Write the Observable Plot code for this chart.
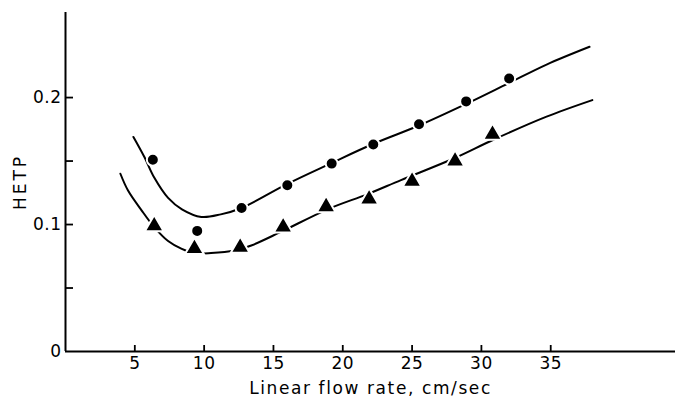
<!DOCTYPE html>
<html>
<head>
<meta charset="utf-8">
<script src="https://cdn.jsdelivr.net/npm/d3@7"></script>
<script src="https://cdn.jsdelivr.net/npm/@observablehq/plot@0.6"></script>
<style>
  html, body { margin: 0; padding: 0; background: #fff; }
  svg { font-family: "DejaVu Sans", sans-serif; }
  g[aria-label="x-axis label"] text { letter-spacing: 1.6px; }
  g[aria-label="y-axis label"] text { letter-spacing: 3px; }
  g[aria-label="x-axis tick label"] text, g[aria-label="y-axis tick label"] text { letter-spacing: 0.5px; }
</style>
</head>
<body>
<div id="chart"></div>
<script>
// Measured points: circles
const circleX = [6.3, 9.5, 12.7, 16.0, 19.2, 22.2, 25.5, 28.9, 32.0];
const circleY = [0.151, 0.095, 0.113, 0.131, 0.148, 0.163, 0.179, 0.197, 0.215];
// Measured points: triangles
const triX = [6.4, 9.3, 12.6, 15.7, 18.8, 21.9, 25.0, 28.1, 30.8];
const triY = [0.099, 0.081, 0.082, 0.098, 0.114, 0.120, 0.134, 0.150, 0.171];
// Fitted curve (upper, circles)
const upperX = [4.9, 5.7, 6.4, 7.4, 8.4, 9.8, 11.2, 12.7, 16.0, 19.1, 22.3, 25.5, 28.9, 31.9, 34.7, 37.8];
const upperY = [0.169, 0.153, 0.137, 0.121, 0.112, 0.106, 0.108, 0.113, 0.132, 0.148, 0.164, 0.178, 0.195, 0.211, 0.226, 0.240];
// Fitted curve (lower, triangles)
const lowerX = [3.96, 4.5, 5.5, 6.4, 7.4, 8.35, 9.3, 10.5, 12.2, 13.4, 15.5, 18.9, 21.8, 24.2, 28.0, 30.9, 34.7, 38.0];
const lowerY = [0.140, 0.127, 0.111, 0.098, 0.087, 0.081, 0.0775, 0.0775, 0.0795, 0.0835, 0.094, 0.112, 0.124, 0.135, 0.152, 0.167, 0.185, 0.198];
// Axis ticks
const xTicks = [5, 10, 15, 20, 25, 30, 35];
const yTickMarks = [0.05, 0.1, 0.15, 0.2];
const yTickLabels = [0, 0.1, 0.2];

const zip = (xs, ys) => xs.map((x, i) => ({x, y: ys[i]}));
const circles = zip(circleX, circleY);
const tris = zip(triX, triY);
const upper = zip(upperX, upperY);
const lower = zip(lowerX, lowerY);

const chart = Plot.plot({
  width: 679,
  height: 399,
  marginLeft: 65,
  marginRight: 4,
  marginTop: 12,
  marginBottom: 48,
  style: {fontFamily: "DejaVu Sans, sans-serif", fontSize: "16px", color: "#000", background: "#fff"},
  x: {domain: [0, 44]},
  y: {domain: [0, 0.267]},
  marks: [
    Plot.ruleX([0], {stroke: "#000", strokeWidth: 2}),
    Plot.ruleY([0], {stroke: "#000", strokeWidth: 2}),
    Plot.axisX({ticks: xTicks, tickSize: -6, tickFormat: () => "", label: null, strokeWidth: 1.8}),
    Plot.axisX({ticks: xTicks, tickSize: 0, tickPadding: 5, label: "Linear flow rate, cm/sec", labelAnchor: "center", labelArrow: "none", labelOffset: 42, fontSize: 17}),
    Plot.axisY({ticks: yTickMarks, tickSize: -8, tickFormat: () => "", label: null, strokeWidth: 1.8}),
    Plot.axisY({ticks: yTickLabels, tickSize: 0, tickPadding: 4, tickFormat: d => d === 0 ? "0" : d3.format(".1f")(d), label: "HETP", labelAnchor: "center", labelArrow: "none", labelOffset: 52, fontSize: 17}),
    Plot.line(upper, {x: "x", y: "y", curve: "catmull-rom", stroke: "#000", strokeWidth: 2}),
    Plot.line(lower, {x: "x", y: "y", curve: "catmull-rom", stroke: "#000", strokeWidth: 2}),
    Plot.dot(circles, {x: "x", y: "y", r: 6, fill: "#000", stroke: "#fff", strokeWidth: 2}),
    Plot.dot(tris, {x: "x", y: "y", symbol: "triangle", r: 7, fill: "#000", stroke: "#fff", strokeWidth: 2})
  ]
});
document.getElementById("chart").appendChild(chart);
</script>
</body>
</html>
